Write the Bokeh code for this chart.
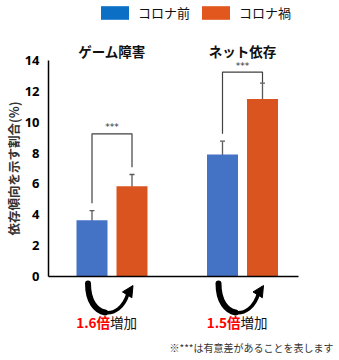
import numpy as np
from bokeh.plotting import figure
from bokeh.models import (ColumnDataSource, Whisker, TeeHead, NormalHead, Arrow,
                          Legend, LegendItem, FixedTicker, Range1d)
from bokeh.core.properties import value
from bokeh.embed import file_html
from bokeh.resources import INLINE

# ---------------- data ----------------
categories = ["ゲーム障害", "ネット依存"]
series_names = ["コロナ前", "コロナ禍"]
before = [3.65, 7.9]
during = [5.85, 11.5]
before_err = [0.62, 0.87]
during_err = [0.76, 1.03]
significance = ["***", "***"]
fold_change = ["1.6倍", "1.5倍"]
fold_suffix = ["増加", "増加"]
y_ticks = [0, 2, 4, 6, 8, 10, 12, 14]
y_title = "依存傾向を示す割合(%)"
footnote = "※***は有意差があることを表します"

# ---------------- layout ----------------
W, H = 339, 360
GROUP_PX = 130.5      # pixel distance between group centres
G1_PX = 111.5         # pixel x of first group centre
UNIT_PX = 216 / 14    # pixels per y unit
ZERO_PX = 276         # pixel y of value 0

def X(px):
    return 1 + (px - G1_PX) / GROUP_PX

def DX(dpx):
    return dpx / GROUP_PX

def Y(py):
    return (ZERO_PX - py) / UNIT_PX

JP = "Noto Sans CJK JP"
BLUE, ORANGE = "#4472C4", "#D9541E"
LEG_BLUE, LEG_ORANGE = "#0B6FC6", "#E2571D"

p = figure(width=W, height=H, output_backend="svg", toolbar_location=None,
           x_range=Range1d(X(0), X(W)), y_range=Range1d(Y(H), Y(0)),
           min_border=0)
p.grid.visible = False
p.outline_line_color = None
p.background_fill_color = "white"
p.border_fill_color = "white"

# y axis
ya = p.yaxis[0]
ya.fixed_location = X(48)
ya.ticker = FixedTicker(ticks=y_ticks)
ya.bounds = (0, 14)
ya.major_tick_in = 0
ya.major_tick_out = 0
ya.minor_tick_in = 0
ya.minor_tick_out = 0
ya.axis_line_color = "black"
ya.axis_line_width = 1.5
ya.major_label_text_font = "Noto Sans"
ya.major_label_text_font_style = "bold"
ya.major_label_text_font_size = "13px"
ya.major_label_text_color = "black"
ya.major_label_standoff = 9

# x axis (baseline only)
xa = p.xaxis[0]
xa.fixed_location = 0
xa.ticker = FixedTicker(ticks=[])
xa.bounds = (X(48), X(298))
xa.major_tick_in = 0
xa.major_tick_out = 0
xa.minor_tick_in = 0
xa.minor_tick_out = 0
xa.axis_line_color = "black"
xa.axis_line_width = 1.5
xa.major_label_text_font_size = "0px"

xs = np.arange(1, len(categories) + 1, dtype=float)
OFF = DX(20)
BW = DX(31)
b = np.array(before); d = np.array(during)
be = np.array(before_err); de = np.array(during_err)

src = ColumnDataSource(dict(
    xb=xs - OFF, xd=xs + OFF, before=b, during=d,
    b_lo=b - be, b_hi=b + be, d_lo=d - de, d_hi=d + de,
))

bars_b = p.vbar(x="xb", top="before", bottom=0, width=BW, source=src,
                fill_color=BLUE, line_color=None)
bars_d = p.vbar(x="xd", top="during", bottom=0, width=BW, source=src,
                fill_color=ORANGE, line_color=None)

for base, lo, hi in (("xb", "b_lo", "b_hi"), ("xd", "d_lo", "d_hi")):
    w = Whisker(source=src, base=base, lower=lo, upper=hi,
                line_color="#5a5a5a", line_width=1.3,
                upper_head=TeeHead(size=5, line_color="#5a5a5a", line_width=1.3),
                lower_head=TeeHead(size=5, line_color="#5a5a5a", line_width=1.3))
    p.add_layout(w)

# significance brackets
bracket_top = [9.25, 13.25]
right_gap = [0.47, 0.03]
left_gap = 0.48
bx, by = [], []
for i in range(len(categories)):
    xl, xr = xs[i] - OFF, xs[i] + OFF
    bx.append([xl, xl, xr, xr])
    by.append([b[i] + be[i] + left_gap, bracket_top[i], bracket_top[i],
               d[i] + de[i] + right_gap[i]])
p.multi_line(xs=bx, ys=by, line_color="#404040", line_width=1.2)
p.text(x=xs, y=[t + 0.42 for t in bracket_top], text=significance,
       text_align="center", text_baseline="middle", text_font_size="9px",
       text_color="#333333", text_font=value("DejaVu Sans"))

# group titles
p.text(x=xs, y=[Y(50)] * len(xs), text=categories, text_align="center",
       text_baseline="middle", text_font=value(JP), text_font_style="bold",
       text_font_size="13.5px", text_color="#111111")

# y title
p.text(x=[X(13)], y=[Y(168)], text=[y_title], angle=np.pi / 2,
       text_align="center", text_baseline="middle", text_font=value(JP),
       text_font_size="12.5px", text_font_style="bold", text_color="#333333")

# curved arrows (cubic bezier, thicker first half to mimic the taper)
n = len(xs)
P0 = (xs + DX(-24), np.full(n, Y(283)))
C0 = (xs + DX(-24), np.full(n, Y(319)))
C1 = (xs + DX(8), np.full(n, Y(321)))
P3 = (xs + DX(16), np.full(n, Y(293)))
p.bezier(x0=P0[0], y0=P0[1], x1=P3[0], y1=P3[1],
         cx0=C0[0], cy0=C0[1], cx1=C1[0], cy1=C1[1],
         line_color="black", line_width=3.5)

def mid(a, c):
    return ((a[0] + c[0]) / 2, (a[1] + c[1]) / 2)

Q1 = mid(P0, C0)
M = mid(C0, C1)
Q2 = mid(Q1, M)
R2 = mid(C1, P3)
R1 = mid(M, R2)
Bm = mid(Q2, R1)
p.bezier(x0=P0[0], y0=P0[1], x1=Bm[0], y1=Bm[1],
         cx0=Q1[0], cy0=Q1[1], cx1=Q2[0], cy1=Q2[1],
         line_color="black", line_width=6, line_cap="round")

arr_src = ColumnDataSource(dict(x0=P3[0], y0=P3[1],
                                x1=xs + DX(21), y1=np.full(n, Y(285))))
p.add_layout(Arrow(source=arr_src, x_start="x0", y_start="y0", x_end="x1", y_end="y1",
                   line_width=3.5, line_color="black",
                   end=NormalHead(size=11, fill_color="black", line_color="black")))

# fold change text
p.text(x=xs + DX(-2), y=[Y(321)] * 2, text=fold_change, text_align="right",
       text_baseline="middle", text_font=value(JP), text_font_style="bold",
       text_font_size="13.5px", text_color="#FF0000")
p.text(x=xs + DX(-2), y=[Y(321)] * 2, text=fold_suffix, text_align="left",
       text_baseline="middle", text_font=value(JP),
       text_font_size="13.5px", text_color="#111111")

# footnote
p.text(x=[X(333)], y=[Y(347)], text=[footnote], text_align="right",
       text_baseline="middle", text_font=value(JP), text_font_size="10px",
       text_color="#333333")

# legend (swatches use the brighter legend colours; zero-height proxies)
r1 = p.vbar(x=[1.0], top=[0.0], bottom=[0.0], width=0.1, fill_color=LEG_BLUE, line_color=None)
r2 = p.vbar(x=[1.0], top=[0.0], bottom=[0.0], width=0.1, fill_color=LEG_ORANGE, line_color=None)
legend = Legend(items=[LegendItem(label=series_names[0], renderers=[r1]),
                       LegendItem(label=series_names[1], renderers=[r2])],
                orientation="horizontal", location=(97, H - 5 - 17),
                border_line_color=None, background_fill_alpha=0,
                glyph_width=35, glyph_height=17, label_standoff=6, spacing=8,
                padding=0, margin=0, label_text_font=JP, label_text_font_size="13px",
                label_height=17, label_text_color="#111111")
p.add_layout(legend)

open("out.html", "w").write(file_html(p, INLINE))
